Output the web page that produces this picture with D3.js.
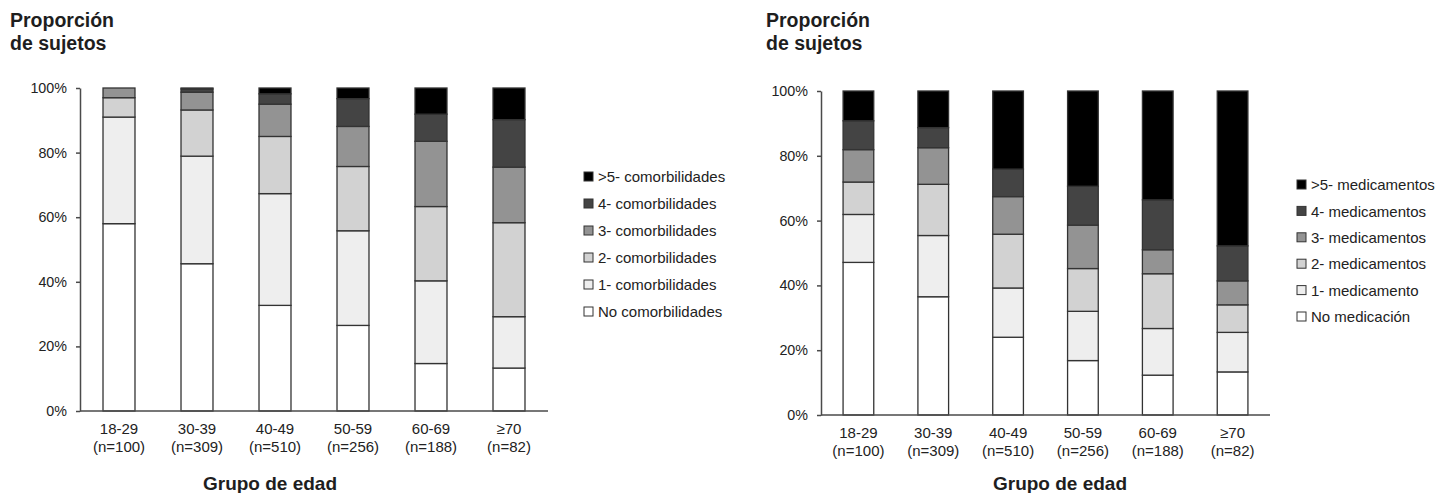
<!DOCTYPE html>
<html>
<head>
<meta charset="utf-8">
<script src="https://cdn.jsdelivr.net/npm/d3@7"></script>
<style>
  body { margin: 0; background: #fff; }
  svg { display: block; font-family: "Liberation Sans", Arial, Helvetica, sans-serif; }
  .axis path, .axis line { stroke: #4a4a4a; stroke-width: 1.5; }
  .axis text { fill: #222; font-size: 14.3px; }
</style>
</head>
<body>
<script>
// age groups and sample sizes (shared by both panels)
const ageGroups = ["18-29", "30-39", "40-49", "50-59", "60-69", "≥70"];
const sampleSizes = [100, 309, 510, 256, 188, 82];
const yTicks = [0, 20, 40, 60, 80, 100];

// left panel: comorbidities (% of subjects, bottom to top)
const comorbLabels = ["No comorbilidades", "1- comorbilidades", "2- comorbilidades",
                      "3- comorbilidades", "4- comorbilidades", ">5- comorbilidades"];
const comorbNone     = [58.0, 45.6, 32.7, 26.5, 14.7, 13.3];
const comorbOne      = [33.0, 33.3, 34.6, 29.3, 25.6, 15.9];
const comorbTwo      = [6.0, 14.3, 17.7, 19.9, 23.0, 29.1];
const comorbThree    = [3.0, 5.5, 10.0, 12.4, 20.2, 17.2];
const comorbFour     = [0.0, 1.0, 3.2, 8.6, 8.4, 14.7];
const comorbFivePlus = [0.0, 0.3, 1.8, 3.3, 8.1, 9.8];

// right panel: medications
const medLabels = ["No medicación", "1- medicamento", "2- medicamentos",
                   "3- medicamentos", "4- medicamentos", ">5- medicamentos"];
const medNone     = [47.1, 36.5, 24.0, 16.8, 12.3, 13.3];
const medOne      = [14.8, 18.9, 15.2, 15.2, 14.4, 12.2];
const medTwo      = [10.0, 15.8, 16.6, 13.2, 16.9, 8.5];
const medThree    = [10.0, 11.3, 11.6, 13.4, 7.4, 7.4];
const medFour     = [8.9, 6.2, 8.5, 12.0, 15.4, 10.8];
const medFivePlus = [9.2, 11.3, 24.1, 29.4, 33.6, 47.8];

const greys = ["#ffffff", "#eeeeee", "#d2d2d2", "#939393", "#444444", "#000000"];

const svg = d3.select("body").append("svg")
    .attr("width", 1439)
    .attr("height", 493);

function drawPanel(cfg, labels, series) {
  // one row per age group, one key per category
  const keys = labels.map((d, i) => "k" + i);
  const rows = ageGroups.map((g, i) => {
    const r = {group: g};
    series.forEach((s, j) => r[keys[j]] = s[i]);
    return r;
  });

  const stack = d3.stack().keys(keys)(rows);

  const x = d3.scaleBand()
      .domain(ageGroups)
      .range([cfg.x0, cfg.x1])
      .paddingInner(0.59)
      .paddingOuter(0.295);

  const y = d3.scaleLinear()
      .domain([0, 100])
      .range([cfg.yBottom, cfg.yTop]);

  const color = d3.scaleOrdinal().domain(keys).range(greys);

  const g = svg.append("g");

  // title
  const title = g.append("text")
      .attr("x", cfg.titleX)
      .attr("font-size", 19.5)
      .attr("font-weight", "bold")
      .attr("fill", "#1e1e1e");
  title.append("tspan").attr("x", cfg.titleX).attr("y", 27).text("Proporción");
  title.append("tspan").attr("x", cfg.titleX).attr("y", 50).text("de sujetos");

  // bars
  g.selectAll(".layer")
    .data(stack)
    .join("g")
      .attr("class", "layer")
      .attr("fill", d => color(d.key))
    .selectAll("rect")
    .data(d => d.filter(p => p[1] - p[0] > 0))
    .join("rect")
      .attr("x", d => x(d.data.group))
      .attr("width", x.bandwidth())
      .attr("y", d => y(d[1]))
      .attr("height", d => y(d[0]) - y(d[1]))
      .attr("stroke", "#333")
      .attr("stroke-width", 1.3);

  // y axis
  g.append("g")
      .attr("class", "axis")
      .attr("transform", `translate(${cfg.x0},0)`)
      .call(d3.axisLeft(y).tickValues(yTicks).tickFormat(d => d + "%")
              .tickSize(4).tickSizeOuter(0).tickPadding(9));

  // x axis line only
  g.append("line")
      .attr("x1", cfg.x0).attr("x2", cfg.x1)
      .attr("y1", cfg.yBottom).attr("y2", cfg.yBottom)
      .attr("stroke", "#4a4a4a")
      .attr("stroke-width", 1.5);

  // x labels, two lines
  const xl = g.selectAll(".xlab")
    .data(ageGroups)
    .join("text")
      .attr("class", "xlab")
      .attr("text-anchor", "middle")
      .attr("font-size", 15)
      .attr("fill", "#222");
  xl.append("tspan")
      .attr("x", d => x(d) + x.bandwidth() / 2)
      .attr("y", cfg.yBottom + 23)
      .text(d => d);
  xl.append("tspan")
      .attr("x", d => x(d) + x.bandwidth() / 2)
      .attr("y", cfg.yBottom + 41)
      .text((d, i) => "(n=" + sampleSizes[i] + ")");

  // axis title
  g.append("text")
      .attr("x", cfg.groupX)
      .attr("y", 490)
      .attr("text-anchor", "middle")
      .attr("font-size", 19)
      .attr("font-weight", "bold")
      .attr("fill", "#1e1e1e")
      .text("Grupo de edad");

  // legend, top item is the last category
  const legendItems = keys.slice().reverse();
  const lg = g.selectAll(".legend")
    .data(legendItems)
    .join("g")
      .attr("class", "legend")
      .attr("transform", (d, i) => `translate(${cfg.legendX},${cfg.legendY0 + i * cfg.legendStep})`);
  lg.append("rect")
      .attr("x", 0).attr("y", -5)
      .attr("width", 9).attr("height", 9)
      .attr("fill", d => color(d))
      .attr("stroke", "#333")
      .attr("stroke-width", 1);
  lg.append("text")
      .attr("x", 14)
      .attr("dy", "0.35em")
      .attr("font-size", 15)
      .attr("fill", "#222")
      .text(d => labels[keys.indexOf(d)]);
}

drawPanel(
  {x0: 80, x1: 548, yTop: 88, yBottom: 411, titleX: 10, groupX: 270,
   legendX: 584, legendY0: 177, legendStep: 27},
  comorbLabels,
  [comorbNone, comorbOne, comorbTwo, comorbThree, comorbFour, comorbFivePlus]
);

drawPanel(
  {x0: 821, x1: 1270, yTop: 91, yBottom: 415, titleX: 766, groupX: 1060,
   legendX: 1297, legendY0: 185, legendStep: 26.4},
  medLabels,
  [medNone, medOne, medTwo, medThree, medFour, medFivePlus]
);
</script>
</body>
</html>
